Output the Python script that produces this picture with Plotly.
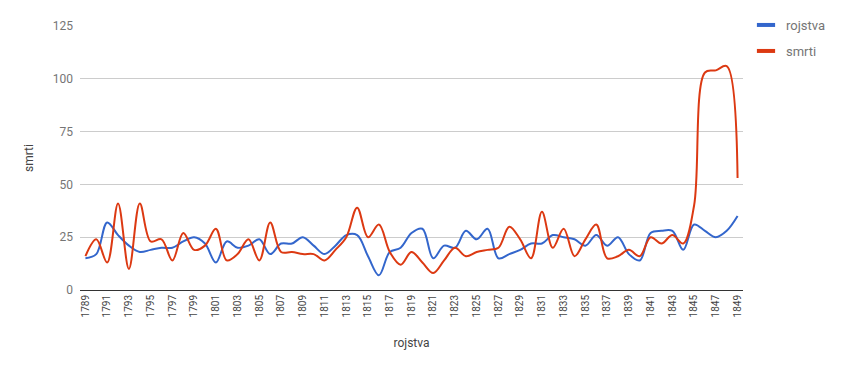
import plotly.graph_objects as go

years = list(range(1789, 1850))
rojstva = [15, 17, 32, 26, 21, 18, 19, 20, 20, 23,
           25, 22, 13, 23, 20, 21, 24, 17, 22, 22,
           25, 21, 17, 21, 26, 26, 16, 7, 18, 20,
           27, 29, 15, 21, 20, 28, 24, 29, 15, 17,
           19, 22, 22, 26, 25, 24, 21, 26, 21, 25,
           17, 14, 27, 28, 28, 19, 31, 28, 25, 28,
           35]
smrti = [16, 24, 13, 41, 10, 41, 23, 24, 14, 27,
         19, 21, 29, 14, 17, 24, 14, 32, 18, 18,
         17, 17, 14, 19, 25, 39, 25, 31, 18, 12,
         18, 13, 8, 14, 20, 16, 18, 19, 20, 30,
         24, 15, 37, 20, 29, 16, 24, 31, 15, 16,
         19, 16, 25, 22, 26, 22, 40, 103, 104, 106,
         53]
y_ticks = [0, 25, 50, 75, 100, 125]
x_labels = [str(y) for y in years]
x_tickvals = x_labels[::2]

BLUE = "#3366cc"
RED = "#dc3912"
FONT = "Roboto, Arial, sans-serif"

# page body has an 8px default margin; compensate so the plot sits where the reference does
W, H = 835, 363

fig = go.Figure()
fig.add_trace(go.Scatter(x=x_labels, y=rojstva, mode="lines", name="rojstva",
                         line=dict(color=BLUE, width=2, shape="spline", smoothing=1),
                         showlegend=False))
fig.add_trace(go.Scatter(x=x_labels, y=smrti, mode="lines", name="smrti",
                         line=dict(color=RED, width=2, shape="spline", smoothing=1),
                         showlegend=False))
# legend entries
fig.add_trace(go.Scatter(x=[None], y=[None], mode="markers", name="rojstva",
                         marker=dict(symbol="line-ew-open", size=13, color=BLUE,
                                     line=dict(width=4, color=BLUE)),
                         legend="legend"))
fig.add_trace(go.Scatter(x=[None], y=[None], mode="markers", name="smrti",
                         marker=dict(symbol="line-ew-open", size=13, color=RED,
                                     line=dict(width=4, color=RED)),
                         legend="legend2"))

legend_common = dict(xref="container", yref="container", xanchor="left", yanchor="middle",
                     bgcolor="rgba(0,0,0,0)", font=dict(family=FONT, size=13, color="#757575"),
                     itemwidth=30)
fig.update_layout(
    width=W, height=H,
    margin=dict(l=72, r=100, t=18, b=81, autoexpand=False),
    paper_bgcolor="white", plot_bgcolor="white",
    font=dict(family=FONT, color="#757575"),
    legend=dict(x=738 / W, y=1 - 17 / H, **legend_common),
    legend2=dict(x=738 / W, y=1 - 43 / H, **legend_common),
    xaxis=dict(type="category", range=[-0.5, 60.5], tickmode="array", tickvals=x_tickvals,
               ticktext=x_tickvals, tickangle=-90, tickfont=dict(size=10, color="#444"),
               showgrid=False, showline=True, linecolor="#333", linewidth=1, ticks="",
               automargin=False,
               title=dict(text="rojstva", font=dict(size=12, color="#444"), standoff=22)),
    yaxis=dict(range=[0, 125], tickvals=y_ticks, showgrid=True, gridcolor="#cccccc",
               zeroline=True, zerolinecolor="#333", zerolinewidth=1, automargin=False,
               tickfont=dict(size=12, color="#757575"), ticks="", ticklabelstandoff=6,
               title=dict(text="smrti", font=dict(size=12, color="#444"), standoff=16)),
)
fig.write_html("out.html")
